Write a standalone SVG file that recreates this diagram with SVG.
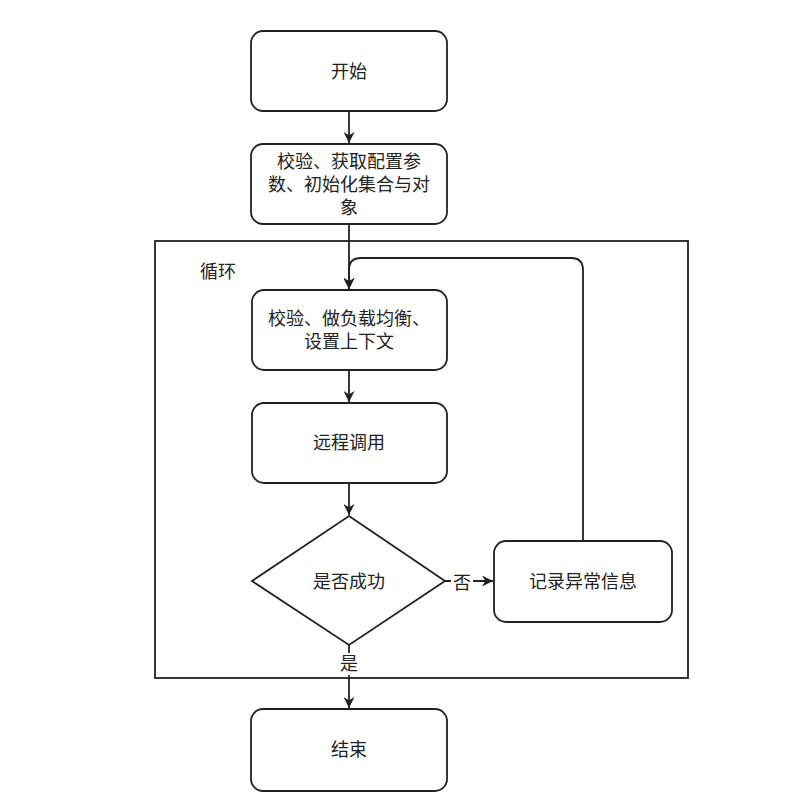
<svg xmlns="http://www.w3.org/2000/svg" width="804" height="800" viewBox="0 0 804 800">
<style>
.node{fill:#fff;stroke:#222;stroke-width:1.8}
.t{font-family:"Liberation Sans","Noto Sans CJK SC",sans-serif;font-size:18px;fill:#222;text-anchor:middle;dominant-baseline:central}
.e{fill:none;stroke:#222;stroke-width:1.8}
</style>
<defs>
<marker id="ah" viewBox="0 0 10 10" refX="10" refY="5" markerWidth="11" markerHeight="11" orient="auto" markerUnits="userSpaceOnUse">
<path d="M0,0 L10,5 L0,10 L3,5 Z" fill="#222"/>
</marker>
</defs>
<rect width="804" height="800" fill="#fff"/>
<g id="loop">
<rect x="155" y="241" width="533" height="437" fill="none" stroke="#222" stroke-width="1.8"/>
<text class="t" x="218" y="272">循环</text>
</g>
<g id="connectors">
<path class="e" d="M349,111 V143" marker-end="url(#ah)"/>
<path class="e" d="M349,224 V289" marker-end="url(#ah)"/>
<path class="e" d="M349,370 V402" marker-end="url(#ah)"/>
<path class="e" d="M349,483 V515" marker-end="url(#ah)"/>
<path class="e" d="M445,581 H493" marker-end="url(#ah)"/>
<path class="e" d="M583,541 V270 Q583,258 571,258 H361 Q349,258 349,270 V289" marker-end="url(#ah)"/>
<path class="e" d="M349,645 V708" marker-end="url(#ah)"/>
<rect x="451" y="571" width="22" height="22" fill="#fff"/>
<text class="t" x="462" y="583">否</text>
<rect x="338" y="653" width="22" height="22" fill="#fff"/>
<text class="t" x="349" y="664">是</text>
</g>
<g id="start">
<rect class="node" x="251" y="31" width="196" height="80" rx="12"/>
<text class="t" x="349" y="72">开始</text>
</g>
<g id="init">
<rect class="node" x="251" y="144" width="196" height="80" rx="12"/>
<text class="t" x="349" y="162">校验、获取配置参</text>
<text class="t" x="349" y="185">数、初始化集合与对</text>
<text class="t" x="349" y="208">象</text>
</g>
<g id="prepare">
<rect class="node" x="252" y="290" width="195" height="80" rx="12"/>
<text class="t" x="349" y="319">校验、做负载均衡、</text>
<text class="t" x="349" y="342">设置上下文</text>
</g>
<g id="rpc">
<rect class="node" x="252" y="403" width="195" height="80" rx="12"/>
<text class="t" x="349" y="443">远程调用</text>
</g>
<g id="decision">
<path class="node" d="M349,516 L445,581 L349,645 L252,581 Z"/>
<text class="t" x="349" y="582">是否成功</text>
</g>
<g id="log">
<rect class="node" x="494" y="541" width="178" height="81" rx="12"/>
<text class="t" x="583" y="582">记录异常信息</text>
</g>
<g id="end">
<rect class="node" x="251" y="709" width="196" height="82" rx="12"/>
<text class="t" x="349" y="750">结束</text>
</g>
</svg>
